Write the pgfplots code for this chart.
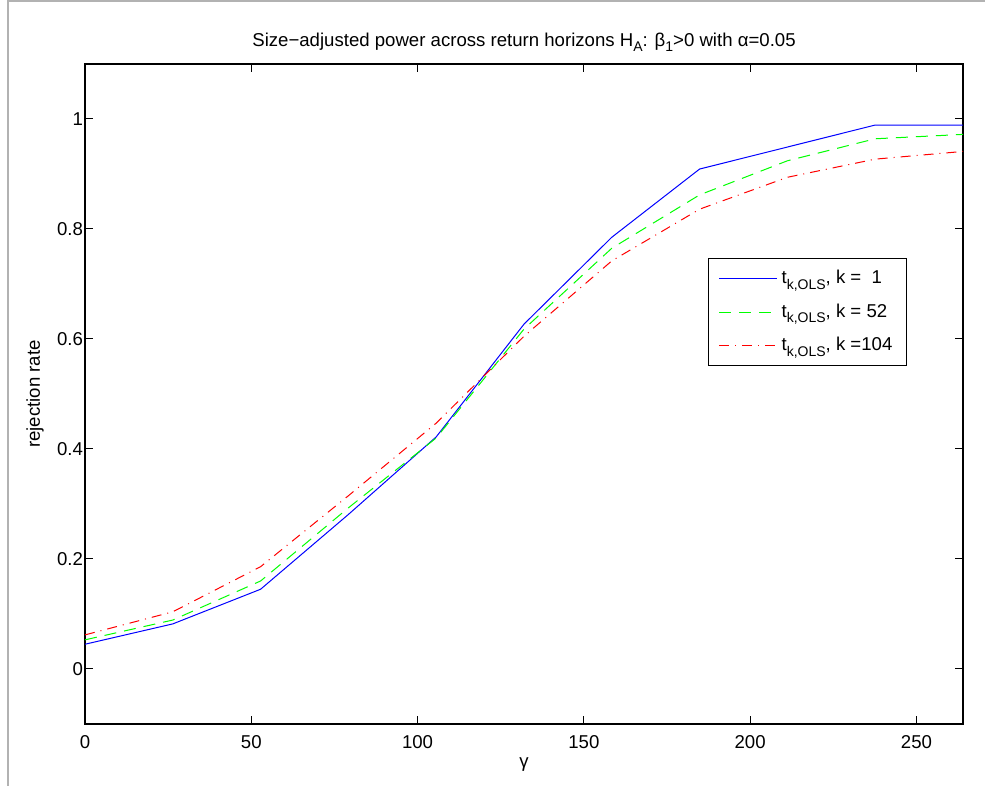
\documentclass[border=0pt]{standalone}
\usepackage{fontspec}
\setmainfont{Liberation Sans}
\usepackage{pgfplots}
\pgfplotsset{compat=1.18}
\newcommand{\sub}[1]{\raisebox{-2.6pt}{\fontsize{7}{8}\selectfont #1}}
\newcommand{\fnt}{\fontsize{9.3}{11}\selectfont}
\begin{document}
\begin{tikzpicture}[x=1pt,y=1pt]
\useasboundingbox (-42.5,-31) rectangle (450,362);
\draw[gray!60, line width=0.6pt] (-38.5,-31) -- (-38.5,361.5) -- (450,361.5);
\begin{axis}[
  at={(0,0)}, anchor=south west,
  scale only axis, width=439pt, height=330pt,
  xmin=0, xmax=264, ymin=-0.1, ymax=1.1,
  xtick={0,50,100,150,200,250},
  ytick={0,0.2,0.4,0.6,0.8,1},
  yticklabels={0,0.2,0.4,0.6,0.8,1},
  tick align=inside, major tick length=4pt,
  tick style={black, line width=0.5pt},
  axis line style={black, line width=0.8pt},
  ticklabel style={font=\fnt},
  /pgf/number format/assume math mode=true,
  xticklabel style={yshift=-2pt},
  yticklabel style={xshift=2.5pt},
  label style={font=\fnt},
  xlabel={γ}, ylabel={rejection rate},
  xlabel style={at={(0.5,0)}, anchor=center, yshift=-20.5pt},
  ylabel style={at={(0,0.5)}, anchor=center, xshift=0pt, yshift=25pt},
  title={Size−adjusted power across return horizons H\sub{A}: β\sub{1}>0 with α=0.05},
  title style={font=\fnt, at={(0.5,1)}, anchor=center, yshift=5pt},
  legend style={at={(0.7096,0.706)}, anchor=north west,
    font=\fnt, row sep=4.5pt, inner xsep=5pt, inner ysep=4pt},
  legend cell align=left,
  legend image code/.code={\draw[#1, line width=0.6pt] (0pt,0pt) -- (29pt,0pt);},
]
\addplot[draw=blue, line width=0.5pt] coordinates {
(0,0.045) (26.4,0.082) (52.8,0.145) (79.2,0.281) (105.6,0.422) (132,0.627) (158.4,0.785) (184.8,0.909) (211.2,0.949) (237.6,0.989) (264,0.989)};
\addlegendentry{t\sub{k,OLS}, k =\ \ 1}
\addplot[draw=green, line width=0.5pt, dash pattern=on 6pt off 4pt] coordinates {
(0,0.053) (26.4,0.089) (52.8,0.160) (79.2,0.293) (105.6,0.420) (132,0.618) (158.4,0.765) (184.8,0.862) (211.2,0.924) (237.6,0.964) (264,0.972)};
\addlegendentry{t\sub{k,OLS}, k = 52}
\addplot[draw=red, line width=0.5pt, dash pattern=on 5pt off 3pt on 0.5pt off 3pt] coordinates {
(0,0.062) (26.4,0.104) (52.8,0.186) (79.2,0.315) (105.6,0.447) (132,0.605) (158.4,0.742) (184.8,0.836) (211.2,0.894) (237.6,0.927) (264,0.941)};
\addlegendentry{t\sub{k,OLS}, k =104}
\end{axis}
\end{tikzpicture}
\end{document}
